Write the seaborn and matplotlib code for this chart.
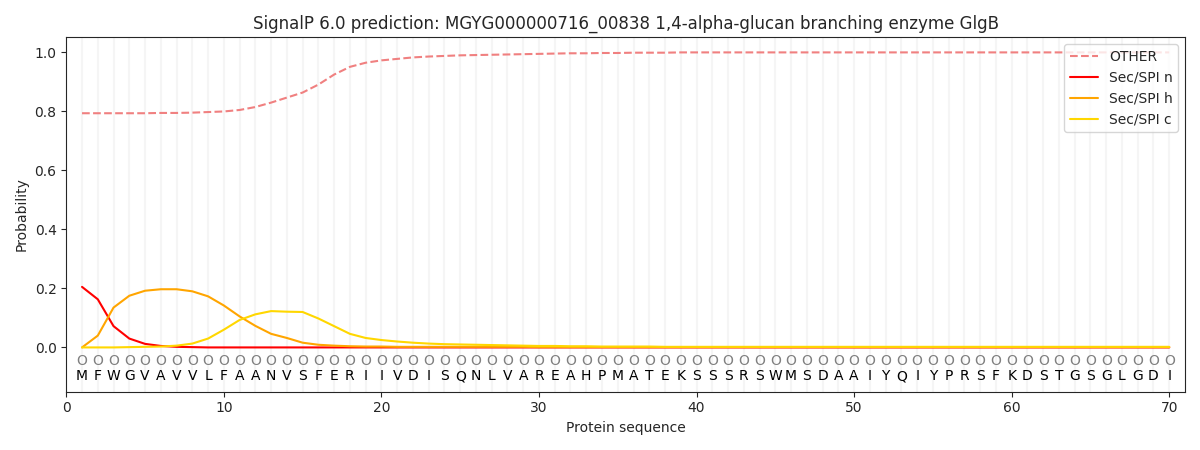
import numpy as np
import pandas as pd
import matplotlib
matplotlib.use("Agg")
import matplotlib.pyplot as plt
import seaborn as sns

sequence = list("MFWGVAVVLFAANVSFERIIVDISQNLVAREAHPMATEKSSSRSWMSDAAIYQIYPRSFKDSTGSGLGDI")
positions = list(range(1, len(sequence) + 1))

# probabilities
other = [0.793, 0.793, 0.793, 0.793, 0.793, 0.794, 0.794, 0.795, 0.797, 0.799,
         0.804, 0.814, 0.829, 0.846, 0.863, 0.890, 0.924, 0.950, 0.964, 0.972,
         0.977, 0.982, 0.985, 0.987, 0.989, 0.990, 0.991, 0.992, 0.993, 0.994,
         0.995, 0.996, 0.996, 0.997, 0.997, 0.998, 0.998, 0.998, 0.999, 0.999,
         0.999, 0.999, 0.999, 0.999, 0.999, 0.999, 0.999, 0.999, 0.999, 0.999,
         0.999, 0.999, 0.999, 0.999, 0.999, 0.999, 0.999, 0.999, 0.999, 0.999,
         0.999, 0.999, 0.999, 0.999, 0.999, 0.999, 0.999, 0.999, 0.999, 0.999]
sec_n = [0.205, 0.163, 0.072, 0.030, 0.012, 0.005, 0.002, 0.001] + [0.0] * 62
sec_h = [0.000, 0.040, 0.135, 0.175, 0.192, 0.197, 0.197, 0.190, 0.173, 0.142,
         0.105, 0.073, 0.046, 0.032, 0.016, 0.009, 0.006, 0.004, 0.003, 0.003,
         0.002, 0.002, 0.002, 0.002, 0.002, 0.002, 0.002, 0.002, 0.002, 0.001] + [0.001] * 40
sec_c = [0.000, 0.000, 0.000, 0.001, 0.002, 0.003, 0.006, 0.013, 0.030, 0.060,
         0.093, 0.112, 0.123, 0.121, 0.120, 0.098, 0.072, 0.046, 0.032, 0.025,
         0.020, 0.016, 0.013, 0.011, 0.010, 0.009, 0.008, 0.007, 0.006, 0.005,
         0.005, 0.004, 0.004, 0.003, 0.003, 0.003, 0.003, 0.002, 0.002, 0.002] + [0.002] * 30
region_labels = ["O"] * 70

df = pd.DataFrame({"pos": positions, "OTHER": other, "Sec/SPI n": sec_n,
                   "Sec/SPI h": sec_h, "Sec/SPI c": sec_c})

sns.set_style("ticks")
plt.rcParams['font.family'] = ['DejaVu Sans']

fig, ax = plt.subplots(figsize=(12, 4.5), dpi=100)

# light vertical guide at every residue
for p in positions:
    ax.axvline(p, color="whitesmoke", linewidth=1.5, zorder=0)

sns.lineplot(data=df, x="pos", y="OTHER", ax=ax, color="lightcoral", linestyle="--", label="OTHER")
sns.lineplot(data=df, x="pos", y="Sec/SPI n", ax=ax, color="red", label="Sec/SPI n")
sns.lineplot(data=df, x="pos", y="Sec/SPI h", ax=ax, color="orange", label="Sec/SPI h")
sns.lineplot(data=df, x="pos", y="Sec/SPI c", ax=ax, color="gold", label="Sec/SPI c")

for p, aa, lab in zip(positions, sequence, region_labels):
    ax.text(p, -0.045, lab, ha="center", va="center", fontsize=10, color="gray")
    ax.text(p, -0.098, aa, ha="center", va="center", fontsize=10, color="black")

ax.set_xlim(0, 71)
ax.set_ylim(-0.15, 1.05)
ax.set_xlabel("Protein sequence")
ax.set_ylabel("Probability")
ax.set_title("SignalP 6.0 prediction: MGYG000000716_00838 1,4-alpha-glucan branching enzyme GlgB")
ax.legend(loc="upper right")

plt.tight_layout()
plt.savefig("out.png", dpi=100)
plt.close()
